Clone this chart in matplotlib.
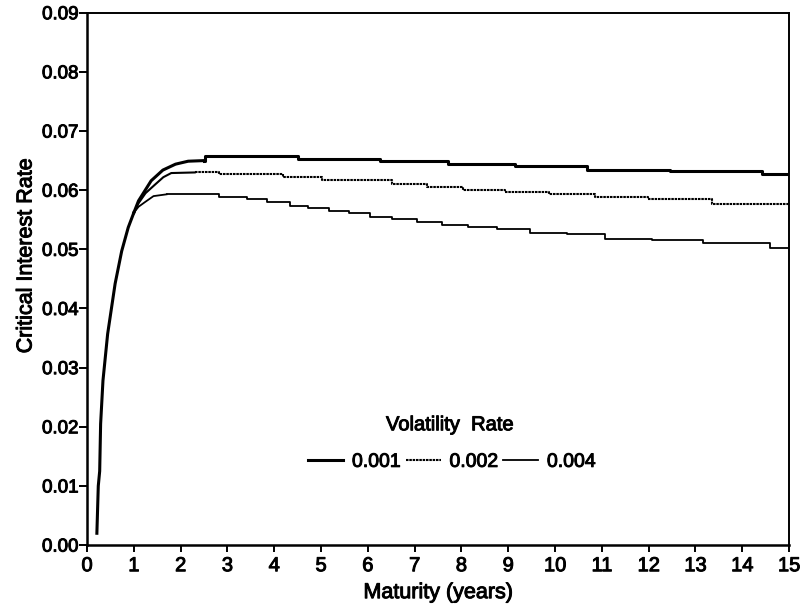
import matplotlib
matplotlib.use('Agg')
import matplotlib.pyplot as plt
import matplotlib.patheffects as pe

plt.rcParams.update({
    'font.family': ['Liberation Sans', 'DejaVu Sans'],
    'font.size': 14,
})

# shared steep rise at short maturities (all three curves coincide)
rise_x = [0.21, 0.24, 0.27, 0.29, 0.34, 0.44, 0.60, 0.74, 0.88, 1.00]
rise_y = [0.0020, 0.0100, 0.0125, 0.0205, 0.0278, 0.0357, 0.0442, 0.0497, 0.0537, 0.0562]

# knee of each curve after the rise
knee_x_001 = [1.00, 1.10, 1.37, 1.62, 1.89, 2.16, 2.49]
knee_y_001 = [0.0562, 0.0582, 0.0616, 0.0634, 0.0644, 0.0649, 0.0650]
knee_x_002 = [1.00, 1.10, 1.25, 1.46, 1.63, 1.80, 2.30]
knee_y_002 = [0.0562, 0.0578, 0.0595, 0.0610, 0.0622, 0.0629, 0.0630]
knee_x_004 = [1.00, 1.10, 1.24, 1.42, 1.70]
knee_y_004 = [0.0562, 0.0572, 0.0580, 0.0590, 0.0593]

# stair-step plateau (level holds from x[k] until x[k+1])
step_x_001 = [2.49, 2.52, 4.51, 6.26, 7.72, 9.15, 10.68, 12.46, 14.42, 15.0]
step_y_001 = [0.0650, 0.0657, 0.0652, 0.0649, 0.0645, 0.0641, 0.0634, 0.0632, 0.0628, 0.0628]
step_x_002 = [2.30, 2.81, 4.19, 5.02, 6.51, 7.26, 8.04, 8.93, 9.86, 10.85, 11.99, 13.35, 15.0]
step_y_002 = [0.0630, 0.0627, 0.0623, 0.0618, 0.0610, 0.0605, 0.0600, 0.0597, 0.0594,
              0.0589, 0.0585, 0.0577, 0.0577]
step_x_004 = [1.70, 2.81, 3.41, 3.84, 4.34, 4.73, 5.16, 5.60, 6.05, 6.51, 7.04, 7.58,
              8.15, 8.75, 9.47, 10.25, 11.07, 12.07, 13.17, 14.59, 15.0]
step_y_004 = [0.0593, 0.0589, 0.0585, 0.0580, 0.0573, 0.0570, 0.0565, 0.0562, 0.0555,
              0.0551, 0.0546, 0.0541, 0.0537, 0.0534, 0.0527, 0.0526, 0.0518, 0.0516,
              0.0511, 0.0503, 0.0503]

labels = ['0.001', '0.002', '0.004']
x_ticks = list(range(0, 16))
y_ticks = [0.00, 0.01, 0.02, 0.03, 0.04, 0.05, 0.06, 0.07, 0.08, 0.09]

heavy = [pe.withStroke(linewidth=0.7, foreground='black')]

fig = plt.figure(figsize=(8.06, 6.07), dpi=100)
ax = fig.add_axes([0.108, 0.102, 0.871, 0.877])

ax.plot(rise_x, rise_y, color='black', lw=2.2)

styles = [
    dict(lw=2.2, ls='-'),
    dict(lw=1.5, ls=(0, (1.2, 0.4))),
    dict(lw=1.3, ls='-'),
]
knees = [(knee_x_001, knee_y_001), (knee_x_002, knee_y_002), (knee_x_004, knee_y_004)]
steps = [(step_x_001, step_y_001), (step_x_002, step_y_002), (step_x_004, step_y_004)]
handles = []
for (kx, ky), (sx, sy), st, lab in zip(knees, steps, styles, labels):
    ax.plot(kx, ky, color='black', lw=st['lw'], ls='-')
    h, = ax.plot(sx, sy, color='black', drawstyle='steps-post', label=lab, **st)
    handles.append(h)

ax.set_xlim(0, 15)
ax.set_ylim(0, 0.09)
ax.set_xticks(x_ticks)
ax.set_yticks(y_ticks)
ax.set_yticklabels([f'{v:.2f}' for v in y_ticks])
ax.tick_params(axis='y', direction='out', length=6, width=1.4, pad=0, labelsize=13.5)
ax.tick_params(axis='x', direction='out', length=5, width=1.4, pad=3, labelsize=14.5)
for side in ['left', 'bottom']:
    ax.spines[side].set_linewidth(1.8)
for side in ['top', 'right']:
    ax.spines[side].set_linewidth(1.4)

ax.set_xlabel('Maturity (years)', fontsize=15.5, labelpad=5)
ax.set_ylabel('Critical Interest Rate', fontsize=15.5)
ax.yaxis.set_label_coords(-0.072, 0.543)

ax.text(0.517, 0.226, 'Volatility  Rate', transform=ax.transAxes,
        ha='center', va='center', fontsize=14.5, path_effects=heavy)
leg = ax.legend(handles=handles, loc='center', bbox_to_anchor=(0.52, 0.156), ncol=3,
                frameon=False, fontsize=14, handlelength=1.8, handletextpad=0.45,
                columnspacing=0.25)
for t in leg.get_texts():
    t.set_path_effects(heavy)
for t in ax.get_xticklabels() + ax.get_yticklabels():
    t.set_path_effects(heavy)
ax.xaxis.label.set_path_effects(heavy)
ax.yaxis.label.set_path_effects(heavy)

fig.savefig('out.png', dpi=100)
